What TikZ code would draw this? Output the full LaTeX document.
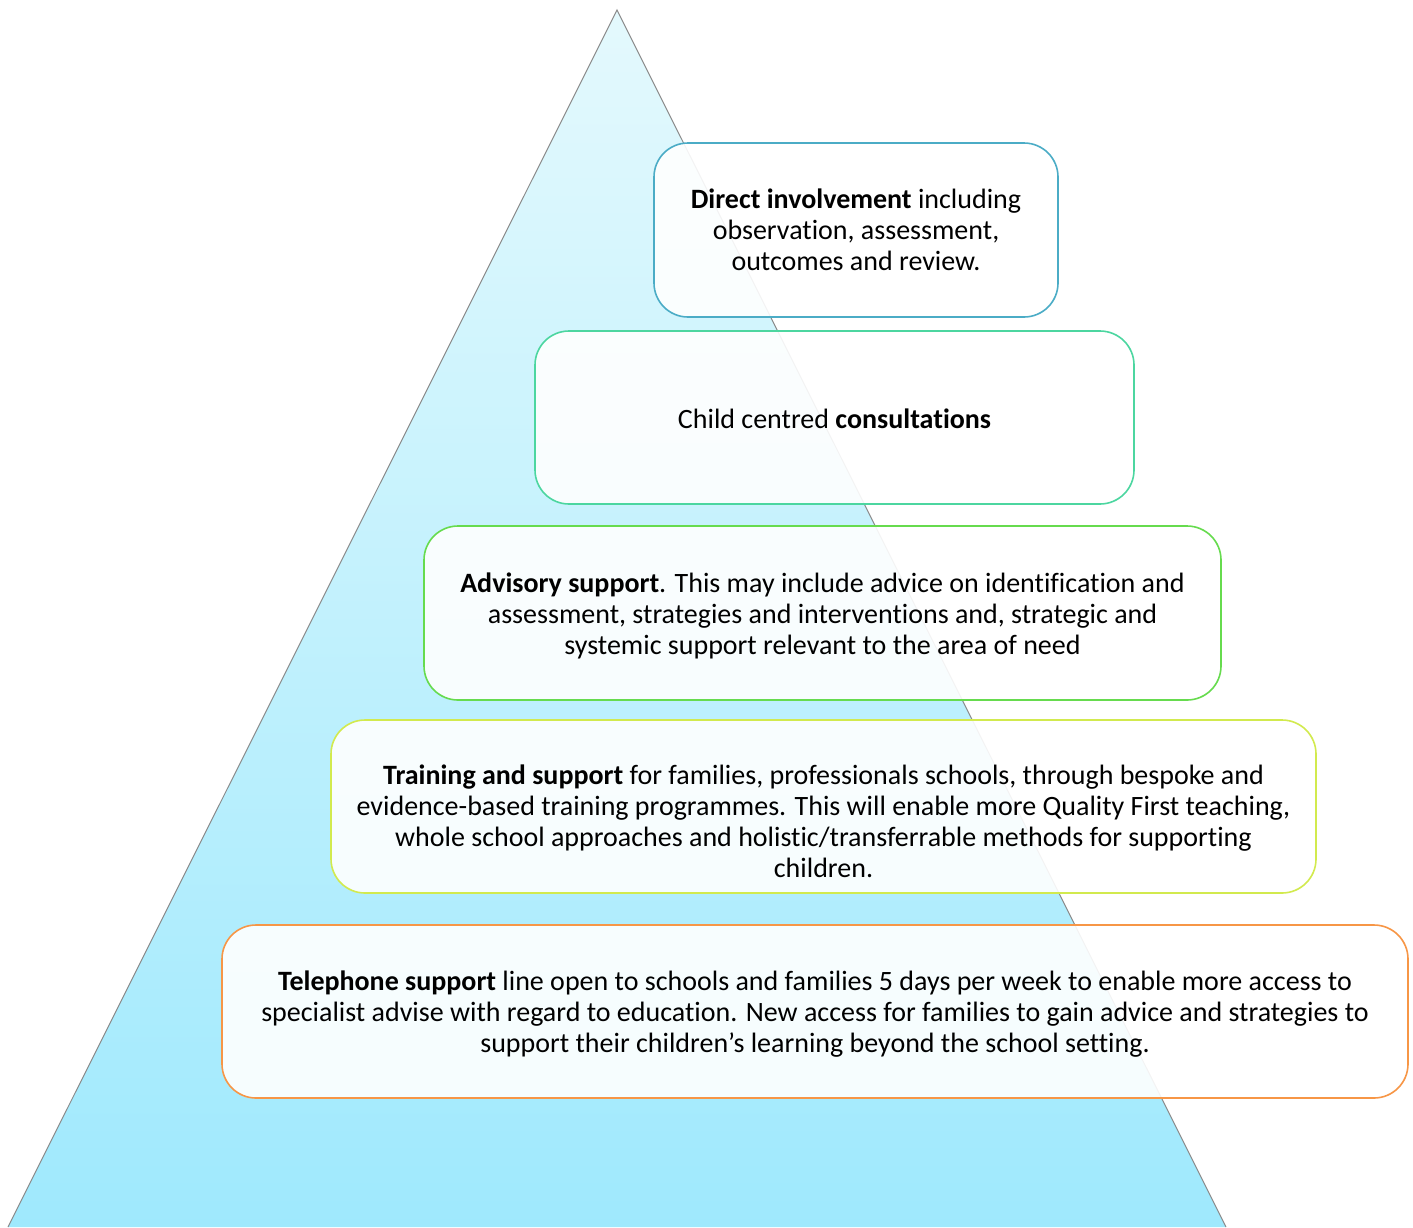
\documentclass[tikz,border=0pt]{standalone}
\usepackage{fontspec}
\setmainfont[Ligatures={NoCommon}]{Carlito}
\definecolor{c1}{HTML}{4BACC6}
\definecolor{c2}{HTML}{4CD6A0}
\definecolor{c3}{HTML}{66DB4E}
\definecolor{c4}{HTML}{D2EA4E}
\definecolor{c5}{HTML}{F79646}
\definecolor{tritop}{HTML}{E4F9FD}
\definecolor{tribot}{HTML}{9FE9FD}
\definecolor{tristroke}{HTML}{8A8A8A}
\begin{document}
\begin{tikzpicture}[x=1pt,y=-1pt,
  tierbox/.style={draw=#1, line width=1.6pt, rounded corners=34pt, fill=white, fill opacity=0.9, inner sep=0pt},
  tiertext/.style={anchor=north, align=center, inner sep=0pt, font=\fontsize{28}{31}\selectfont, text depth=0pt}]
\useasboundingbox (0,0) rectangle (1413,1227);
\begin{scope}
\clip (0,0) rectangle (1413,1227);
\coordinate (apex) at (617,10);
\coordinate (bl) at (8,1227);
\coordinate (br) at (1226,1227);
\shade[top color=tritop, bottom color=tribot] (apex) -- (bl) -- (br) -- cycle;
\draw[tristroke, line width=1pt] (bl) -- (apex) -- (br);
\end{scope}
% boxes
\node[tierbox=c1, minimum width=404pt, minimum height=174pt] (b1) at (856,230) {};
\node[tierbox=c2, minimum width=599pt, minimum height=173pt] (b2) at (834.5,417.5) {};
\node[tierbox=c3, minimum width=797pt, minimum height=174pt] (b3) at (822.5,613) {};
\node[tierbox=c4, minimum width=985pt, minimum height=173pt] (b4) at (823.5,806.5) {};
\node[tierbox=c5, minimum width=1186pt, minimum height=173pt] (b5) at (815,1011.5) {};
% texts
\node[tiertext] (t1) at ([yshift=-46pt]b1.north) {\textbf{Direct involvement} including\\observation, assessment,\\outcomes and review.};
\node[tiertext] (t2) at ([yshift=-78pt]b2.north) {Child centred \textbf{consultations}};
\node[tiertext] (t3) at ([yshift=-47pt]b3.north) {\textbf{Advisory support}. This may include advice on identification and\\assessment, strategies and interventions and, strategic and\\systemic support relevant to the area of need};
\node[tiertext] (t4) at ([yshift=-45pt]b4.north) {\textbf{Training and support} for families, professionals schools, through bespoke and\\evidence-based training programmes. This will enable more Quality First teaching,\\whole school approaches and holistic/transferrable methods for supporting\\children.};
\node[tiertext] (t5) at ([yshift=-46pt]b5.north) {\textbf{Telephone support} line open to schools and families 5 days per week to enable more access to\\specialist advise with regard to education. New access for families to gain advice and strategies to\\support their children’s learning beyond the school setting.};
\end{tikzpicture}
\end{document}
